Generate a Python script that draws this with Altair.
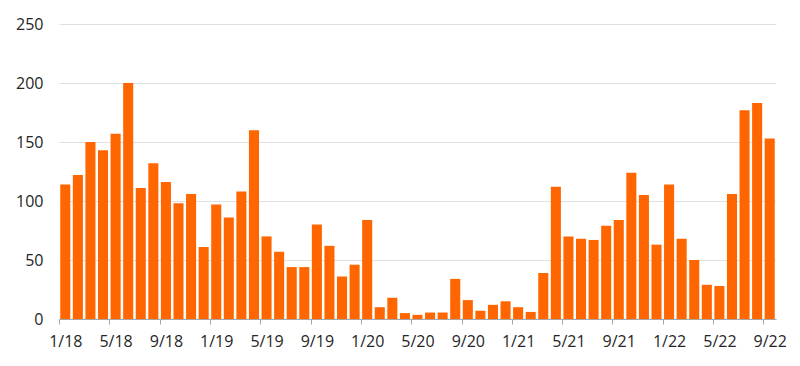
import altair as alt
import pandas as pd

months = [f"{m}/{y}" for y in range(18, 23) for m in range(1, 13)][:57]
values = [114, 122, 150, 143, 157, 200, 111, 132, 116, 98, 106, 61,
          97, 86, 108, 160, 70, 57, 44, 44, 80, 62, 36, 46,
          84, 10, 18, 5, 3.5, 5.5, 5.5, 34, 16, 7, 12, 15,
          10, 6, 39, 112, 70, 68, 67, 79, 84, 124, 105, 63,
          114, 68, 50, 29, 28, 106, 177, 183, 153]
tick_labels = months[::4]

df = pd.DataFrame({"month": months, "value": values})

W, H = 717, 295
step = W / len(months)

chart = alt.Chart(df).mark_bar(color="#FF6600").encode(
    x=alt.X("month:O", sort=None, title=None,
            scale=alt.Scale(paddingInner=0.2, paddingOuter=0.1),
            axis=alt.Axis(values=tick_labels, labelAngle=0, tickSize=5,
                          tickColor="#A6A6A6", domainColor="#A6A6A6",
                          tickOffset=-step / 2, labelOffset=step / 2,
                          labelPadding=9, grid=False)),
    y=alt.Y("value:Q", title=None,
            scale=alt.Scale(domain=[0, 250]),
            axis=alt.Axis(values=[0, 50, 100, 150, 200, 250], ticks=False,
                          domain=False, labelPadding=16, gridColor="#E0E0E0")),
).properties(
    width=W, height=H,
    autosize=alt.AutoSizeParams(type="none"),
    padding={"left": 51, "top": 16, "right": 10, "bottom": 40},
).configure_axis(
    labelFont="Open Sans", labelFontSize=16, labelColor="#262626",
).configure_view(stroke=None)

chart.save("out.html", embed_options={"renderer": "svg", "actions": False})
